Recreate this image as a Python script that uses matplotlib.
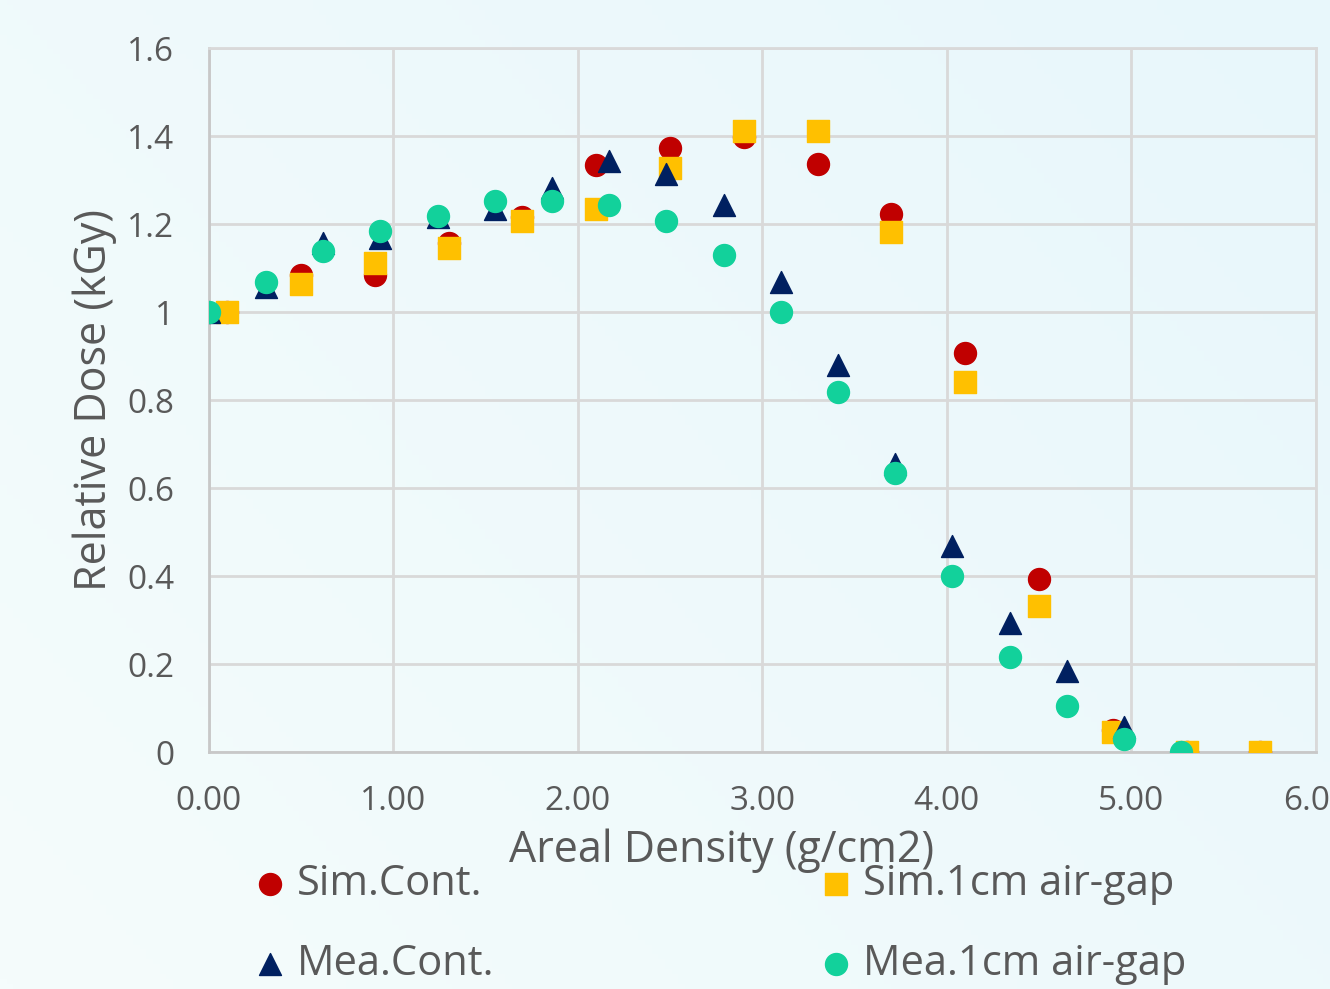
import matplotlib
matplotlib.use("Agg")
import matplotlib.pyplot as plt
import numpy as np
from matplotlib.colors import LinearSegmentedColormap
from matplotlib.ticker import FuncFormatter

plt.rcParams['font.family'] = ['Open Sans', 'DejaVu Sans']

# simulated points (red circles / yellow squares)
sim_x = [0.1, 0.5, 0.9, 1.3, 1.7, 2.1, 2.5, 2.9, 3.3, 3.7, 4.1, 4.5, 4.9, 5.3, 5.7]
sim_cont = [1.0, 1.085, 1.085, 1.157, 1.215, 1.335, 1.373, 1.397, 1.337, 1.223, 0.907, 0.393, 0.05, 0.0, 0.0]
sim_gap = [1.0, 1.064, 1.112, 1.145, 1.207, 1.234, 1.328, 1.411, 1.412, 1.182, 0.842, 0.331, 0.046, 0.0, 0.0]

# measured points (navy triangles / teal circles)
mea_x = [0.0, 0.31, 0.62, 0.93, 1.24, 1.55, 1.86, 2.17, 2.48, 2.79, 3.10, 3.41, 3.72, 4.03, 4.34, 4.65, 4.96, 5.27]
mea_cont = [1.0, 1.057, 1.157, 1.168, 1.216, 1.234, 1.282, 1.343, 1.314, 1.243, 1.068, 0.880, 0.655, 0.468, 0.293, 0.184, 0.057, 0.0]
mea_gap = [1.0, 1.068, 1.139, 1.184, 1.218, 1.252, 1.253, 1.243, 1.207, 1.130, 1.0, 0.818, 0.634, 0.400, 0.216, 0.105, 0.030, 0.0]

fig = plt.figure(figsize=(13.3, 9.89), dpi=100)

# light gradient background
bg = fig.add_axes([0, 0, 1, 1], zorder=-10)
cmap = LinearSegmentedColormap.from_list("bg", ["#f5fcfc", "#e8f7fb"])
gx, gy = np.meshgrid(np.linspace(0, 1, 200), np.linspace(0, 1, 200))
bg.imshow(gx * 0.6 + gy * 0.4, cmap=cmap, origin="lower", extent=[0, 1, 0, 1], aspect="auto")
bg.axis("off")

ax = fig.add_axes([0.157, 0.2396, 0.8323, 0.7118])
ax.patch.set_alpha(0)

gray = "#595959"
ms = 250
h1 = ax.scatter(sim_x, sim_cont, s=ms, marker="o", color="#C00000", zorder=3, label="Sim.Cont.")
h2 = ax.scatter(sim_x, sim_gap, s=ms, marker="s", color="#FFC000", zorder=4, label="Sim.1cm air-gap")
h3 = ax.scatter(mea_x, mea_cont, s=ms, marker="^", color="#002060", zorder=5, label="Mea.Cont.")
h4 = ax.scatter(mea_x, mea_gap, s=ms, marker="o", color="#12D19B", zorder=6, label="Mea.1cm air-gap")

ax.set_xlim(0, 6)
ax.set_ylim(0, 1.6)
ax.set_xticks(np.arange(0, 6.01, 1))
ax.set_yticks(np.arange(0, 1.61, 0.2))
ax.xaxis.set_major_formatter(FuncFormatter(lambda v, p: "%.2f" % v))
ax.yaxis.set_major_formatter(FuncFormatter(lambda v, p: "%g" % round(v, 1)))
ax.tick_params(length=0, labelsize=24, colors=gray)
ax.tick_params(axis="y", pad=25)
ax.tick_params(axis="x", pad=24)
ax.grid(True, color="#d9d9d9", linewidth=2)
for sp in ax.spines.values():
    sp.set_color("#d9d9d9")
    sp.set_linewidth(2)
ax.spines["left"].set_color("#c8c8c8")
ax.spines["bottom"].set_color("#c8c8c8")
ax.set_axisbelow(True)

ax.set_xlabel("Areal Density (g/cm2)", fontsize=31, color=gray, labelpad=7, x=0.4634)
ax.set_ylabel("Relative Dose (kGy)", fontsize=31, color=gray, labelpad=7)

fig.legend(handles=[h1, h3, h2, h4], ncol=2, loc="upper left",
           bbox_to_anchor=(0.1874, 0.1278), frameon=False, fontsize=30,
           labelcolor=gray, columnspacing=7.7, labelspacing=0.92,
           handlelength=1.0, handletextpad=0.15, markerscale=1.0,
           borderpad=0, borderaxespad=0)

fig.savefig("out.png", dpi=100)
